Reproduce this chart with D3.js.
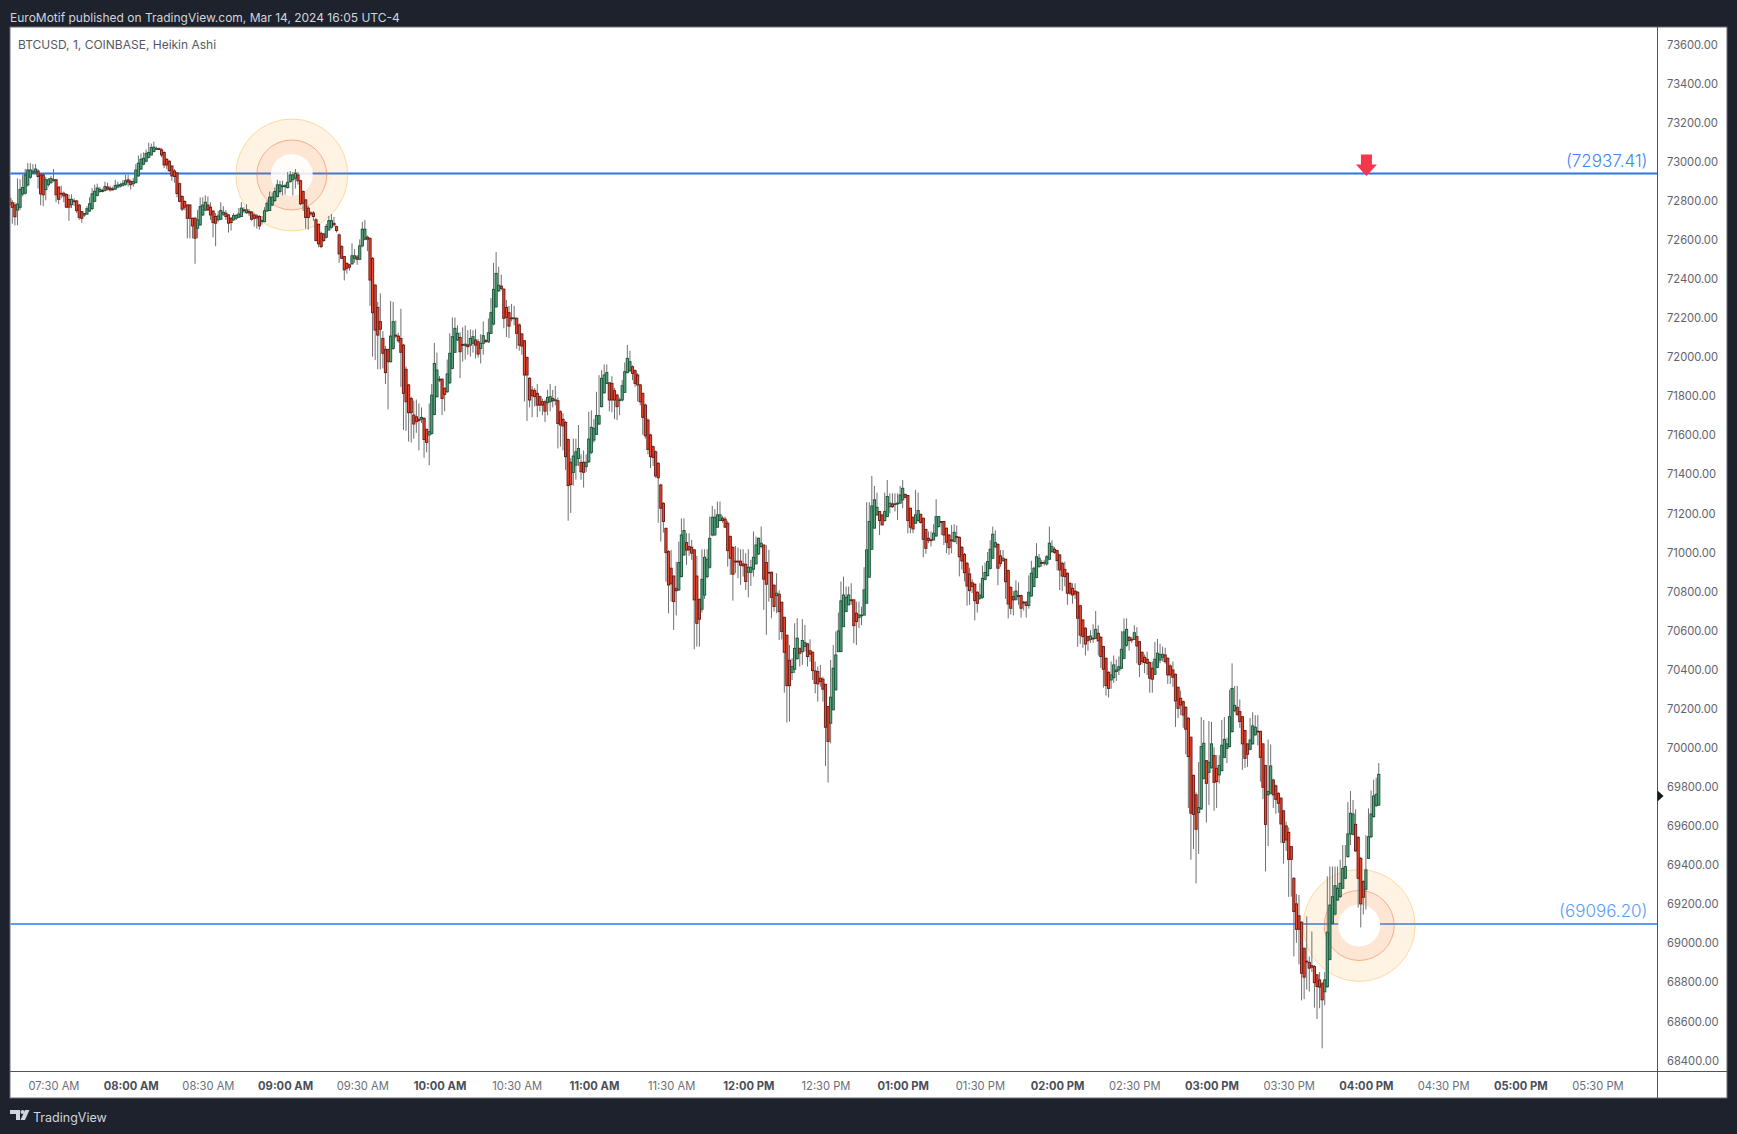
<!DOCTYPE html>
<html><head><meta charset="utf-8">
<style>html,body{margin:0;padding:0;background:#1e222d}svg{display:block}</style>
<script src="https://cdn.jsdelivr.net/npm/d3@7/dist/d3.min.js"></script>
</head><body><div id="c"></div>
<script>
const opens=[
72810,72788,72776,72750,72764,72832,72836,72879,72918,72940,
72945,72950,72930,72930,72855,72880,72890,72905,72905,72868,
72836,72836,72830,72805,72778,72797,72797,72776,72742,72725,
72730,72745,72758,72795,72825,72845,72850,72850,72868,72862,
72858,72857,72868,72873,72877,72882,72905,72897,72885,72890,
72925,72960,72985,73000,73020,73032,73050,73064,73064,73058,
73045,73010,73000,72975,72950,72940,72885,72820,72794,72776,
72776,72708,72708,72657,72674,72725,72750,72776,72765,72745,
72717,72700,72703,72729,72734,72725,72708,72700,72708,72713,
72717,72751,72737,72743,72740,72725,72720,72717,72691,72691,
72746,72748,72776,72799,72819,72845,72870,72870,72865,72896,
72905,72913,72930,72900,72845,72802,72760,72735,72735,72700,
72677,72631,72628,72611,72649,72662,72682,72665,72623,72563,
72512,72478,72470,72475,72503,72510,72498,72567,72601,72611,
72605,72503,72366,72252,72179,72093,72037,72037,71974,72042,
72110,72105,72093,72059,71935,71855,71786,71701,71692,71680,
71680,71684,71628,71599,71607,71704,71795,71884,71884,71838,
71820,71866,71940,72022,72085,72098,72062,72057,72060,72059,
72068,72085,72076,72042,72068,72082,72076,72119,72167,72255,
72337,72361,72345,72252,72225,72198,72197,72196,72162,72116,
72081,71996,71889,71829,71826,71812,71795,71769,71769,71764,
71769,71786,71778,71774,71718,71679,71663,71576,71459,71407,
71445,71479,71459,71459,71437,71462,71510,71573,71602,71655,
71744,71815,71863,71866,71863,71826,71803,71778,71778,71817,
71918,71928,71948,71928,71906,71855,71812,71752,71675,71599,
71539,71513,71454,71343,71249,71121,71002,70917,70877,70814,
70806,70874,70985,71048,71028,71024,71011,70877,70758,70707,
70780,70874,70922,71087,71087,71127,71161,71173,71168,71147,
71079,71023,70953,70953,70953,70939,70937,70896,70896,70912,
70939,70990,71028,71036,70946,70896,70896,70830,70777,70784,
70743,70666,70574,70446,70383,70400,70455,70507,70490,70516,
70530,70495,70487,70391,70388,70354,70349,70323,70209,70124,
70192,70294,70490,70490,70618,70695,70729,70755,70755,70687,
70664,70676,70677,70738,70871,71014,71122,71190,71207,71190,
71161,71181,71232,71246,71246,71249,71250,71267,71295,71289,
71224,71178,71147,71161,71193,71173,71116,71070,71062,71062,
71082,71130,71156,71156,71122,71087,71062,71053,71079,71075,
71024,70988,70942,70888,70843,70835,70794,70763,70768,70860,
70879,70916,70968,71027,71039,70980,70956,70963,70905,70819,
70772,70758,70777,70777,70743,70743,70726,70775,70823,70870,
70925,70946,70946,70939,70963,71002,71014,71007,70985,70942,
70911,70891,70840,70814,70800,70794,70725,70652,70610,70567,
70553,70559,70558,70584,70563,70516,70456,70384,70345,70357,
70388,70396,70405,70456,70523,70563,70553,70553,70567,70541,
70487,70461,70451,70434,70405,70374,70410,70447,70461,70473,
70456,70417,70396,70374,70308,70251,70234,70205,70149,70052,
69857,69757,69666,69685,69842,69932,69872,69898,69958,69893,
69859,69881,69949,69995,70004,70081,70188,70205,70183,70157,
70086,70018,69990,70018,70064,70083,70082,70018,69907,69757,
69765,69833,69803,69765,69740,69675,69598,69565,69492,69330,
69199,69138,69105,68972,68906,68899,68883,68878,68836,68810,
68790,68749,68775,68915,69100,69147,69219,69236,69279,69330,
69441,69557,69555,69606,69540,69432,69313,69274,69432,69543,
69646,69702,69705];
const closes=[
72776,72764,72716,72781,72856,72866,72930,72955,72955,72950,
72960,72922,72833,72828,72905,72905,72912,72905,72828,72805,
72832,72822,72765,72765,72805,72793,72747,72713,72708,72733,
72757,72782,72833,72846,72863,72856,72846,72870,72858,72853,
72856,72876,72878,72880,72887,72900,72893,72880,72896,72955,
72990,73010,73015,73040,73045,73070,73072,73065,73062,73032,
72981,72981,72952,72925,72922,72835,72795,72755,72765,72708,
72708,72669,72606,72700,72768,72776,72790,72751,72725,72686,
72683,72720,72748,72739,72717,72683,72686,72722,72722,72730,
72760,72746,72751,72735,72703,72708,72710,72669,72697,72746,
72785,72816,72816,72845,72879,72879,72874,72875,72892,72930,
72930,72939,72900,72782,72785,72712,72712,72733,72717,72594,
72577,72563,72594,72666,72696,72696,72674,72645,72526,72503,
72444,72452,72458,72516,72516,72498,72567,72652,72652,72601,
72392,72225,72136,72110,72140,72017,71918,71974,72105,72179,
72105,72081,72022,71812,71769,71713,71713,71655,71667,71672,
71689,71576,71561,71616,71803,71965,71931,71882,71786,71807,
71911,72017,72102,72145,72119,72025,72060,72064,72051,72093,
72102,72059,72013,72068,72107,72080,72122,72225,72344,72426,
72365,72349,72196,72201,72156,72197,72198,72119,72059,72054,
71906,71906,71778,71800,71795,71752,71752,71752,71721,71791,
71795,71774,71779,71658,71650,71645,71488,71340,71345,71491,
71513,71530,71411,71408,71459,71578,71638,71633,71698,71698,
71889,71906,71918,71778,71778,71778,71744,71779,71851,71923,
71991,71974,71914,71863,71855,71769,71689,71595,71525,71488,
71484,71389,71380,71224,71156,70997,70831,70837,70746,70802,
70946,71087,71110,71010,71011,70994,70755,70635,70656,70860,
70973,70963,71070,71178,71178,71190,71190,71161,71127,71007,
70968,70886,70952,70951,70932,70929,70849,70922,70922,70973,
71036,71070,71045,70861,70835,70895,70768,70721,70789,70695,
70593,70487,70316,70316,70414,70507,70559,70482,70547,70536,
70465,70477,70393,70328,70325,70337,70298,70103,70030,70257,
70405,70473,70596,70750,70780,70768,70780,70754,70623,70644,
70678,70677,70806,71011,71156,71236,71267,71229,71161,71139,
71207,71284,71250,71232,71247,71250,71292,71326,71280,71161,
71127,71118,71190,71212,71151,71065,71019,71059,71061,71096,
71181,71181,71155,71087,71050,71022,71061,71101,71078,70976,
70954,70894,70826,70802,70823,70751,70737,70780,70865,70895,
70951,71014,71091,71048,70917,70942,70968,70848,70734,70712,
70755,70800,70776,70712,70742,70726,70794,70891,70917,70976,
70968,70945,70947,70976,71045,71027,70998,70956,70908,70877,
70874,70789,70789,70780,70785,70661,70575,70567,70529,70546,
70570,70558,70604,70545,70465,70400,70316,70302,70371,70422,
70396,70413,70502,70591,70604,70546,70552,70587,70519,70425,
70439,70434,70430,70354,70349,70451,70482,70476,70476,70439,
70371,70371,70359,70238,70200,70217,70166,70093,69953,69663,
69657,69581,69692,70004,70021,69816,69924,70018,69821,69825,
69907,70011,70041,70018,70157,70302,70215,70169,70132,70018,
69944,69965,70038,70110,70103,70082,69949,69796,69606,69774,
69905,69757,69734,69714,69608,69514,69526,69427,69427,69160,
69069,69069,68844,68824,68905,68870,68875,68796,68776,68773,
68708,68810,69054,69193,69236,69292,69279,69304,69381,69390,
69557,69663,69659,69470,69330,69199,69233,69373,69543,69659,
69751,69760,69862];
const highs=[
72830,72800,72790,72912,72908,72930,72960,72990,72990,72985,
72985,72960,72935,72935,72920,72915,72925,72960,72910,72870,
72875,72845,72835,72830,72830,72810,72800,72780,72745,72735,
72770,72815,72862,72880,72885,72868,72860,72895,72890,72875,
72870,72905,72895,72890,72905,72930,72930,72905,72915,72985,
73030,73040,73045,73060,73095,73090,73100,73075,73070,73068,
73050,73015,73005,72980,72960,72945,72890,72825,72800,72780,
72780,72712,72715,72750,72815,72815,72825,72820,72790,72750,
72735,72745,72790,72770,72750,72730,72715,72735,72730,72760,
72790,72765,72780,72755,72745,72735,72730,72725,72720,72765,
72800,72845,72840,72865,72905,72900,72900,72885,72945,72950,
72945,72960,72945,72905,72850,72805,72770,72745,72745,72710,
72680,72640,72632,72680,72720,72730,72715,72670,72630,72570,
72515,72480,72475,72580,72550,72520,72600,72690,72700,72620,
72610,72510,72370,72280,72324,72130,72055,72040,72285,72280,
72185,72122,72245,72065,71950,71860,71795,71775,71780,71760,
71740,71690,71630,71760,71860,72070,72020,71900,71890,71842,
71985,72120,72200,72200,72160,72125,72150,72160,72135,72140,
72135,72140,72090,72115,72180,72090,72195,72300,72480,72535,
72460,72420,72350,72290,72260,72270,72260,72200,72170,72120,
72085,72000,71895,71850,71840,71860,71800,71785,71780,71830,
71860,71830,71850,71790,71725,71710,71670,71580,71480,71580,
71580,71650,71500,71520,71500,71718,71725,71680,71820,71905,
71931,71960,71960,71870,71900,71840,71810,71790,71880,71970,
72060,72030,71955,71935,71915,71860,71815,71760,71685,71605,
71545,71520,71460,71350,71255,71125,71010,71010,70880,70950,
71053,71172,71172,71096,71096,71062,71015,70980,70760,71014,
71014,71014,71181,71236,71219,71258,71258,71185,71181,71160,
71085,71030,71031,71023,71014,71014,70994,71014,70960,71105,
71079,71075,71130,71036,71036,71011,70900,70835,70891,70803,
70745,70668,70576,70524,70456,70635,70661,70510,70656,70627,
70533,70553,70490,70439,70414,70422,70362,70325,70212,70448,
70524,70593,70690,70849,70874,70823,70823,70840,70757,70746,
70746,70720,70922,71255,71255,71390,71338,71304,71210,71192,
71304,71369,71300,71300,71300,71300,71338,71369,71298,71292,
71226,71180,71318,71304,71195,71175,71118,71105,71105,71142,
71270,71183,71158,71158,71124,71090,71138,71142,71136,71080,
71030,70995,70950,70920,70860,70840,70800,70840,70930,70945,
71000,71060,71130,71110,71045,71010,71010,70965,70910,70825,
70800,70855,70845,70782,70750,70750,70880,70955,70925,71045,
70990,70960,70960,70985,71130,71060,71025,71012,70990,70950,
70950,70895,70845,70840,70840,70800,70730,70655,70615,70570,
70600,70630,70698,70625,70570,70520,70460,70390,70440,70470,
70450,70465,70595,70660,70660,70570,70565,70625,70615,70545,
70490,70475,70490,70440,70440,70540,70555,70530,70516,70510,
70460,70425,70440,70378,70310,70290,70240,70210,70155,70055,
69860,69770,69925,70155,70140,69935,70135,70130,70000,69960,
69960,70140,70155,70050,70295,70430,70315,70315,70245,70160,
70090,70020,70150,70180,70165,70165,70085,70020,69910,70040,
70015,69840,69810,69770,69745,69680,69620,69590,69495,69335,
69250,69245,69110,68975,69135,68930,69058,68885,68840,68850,
68800,68850,69340,69390,69390,69390,69390,69425,69500,69500,
69720,69777,69731,69683,69545,69440,69320,69550,69688,69779,
69835,69845,69920];
const lows=[
72770,72680,72672,72672,72750,72820,72830,72870,72910,72935,
72935,72860,72775,72770,72800,72870,72885,72895,72790,72780,
72810,72790,72760,72695,72760,72770,72735,72700,72685,72715,
72725,72740,72750,72790,72820,72838,72840,72845,72850,72845,
72850,72855,72862,72865,72870,72875,72870,72855,72870,72888,
72920,72955,72980,72995,73015,73030,73045,73060,73058,73020,
72965,72960,72945,72900,72890,72815,72790,72745,72750,72605,
72605,72605,72475,72606,72670,72720,72745,72745,72700,72610,
72565,72690,72700,72720,72700,72635,72645,72695,72700,72710,
72715,72735,72730,72720,72695,72665,72655,72650,72675,72688,
72740,72745,72770,72790,72815,72835,72825,72830,72860,72890,
72825,72860,72880,72775,72745,72655,72650,72720,72695,72590,
72560,72555,72588,72605,72645,72655,72665,72635,72480,72500,
72390,72425,72440,72470,72480,72470,72495,72560,72595,72540,
72260,72000,71982,71935,71935,71940,71860,71730,71970,72035,
72095,72070,71845,71625,71620,71565,71560,71580,71610,71520,
71660,71482,71510,71444,71600,71700,71790,71870,71700,71720,
71815,71860,71935,72020,72080,71890,71975,71985,72010,72000,
72020,71990,71995,71965,72010,72070,72070,72115,72160,72250,
72330,72340,72145,72100,72095,72180,72160,72040,72030,72010,
71770,71670,71740,71690,71745,71690,71720,71700,71665,71700,
71720,71740,71750,71530,71540,71520,71420,71160,71200,71340,
71370,71440,71370,71330,71410,71455,71500,71560,71600,71650,
71740,71810,71860,71720,71715,71680,71675,71700,71770,71815,
71915,71920,71880,71845,71770,71750,71600,71580,71500,71430,
71440,71380,71150,71053,71100,70848,70686,70746,70601,70675,
70800,70870,70980,70934,70980,70960,70502,70516,70516,70690,
70760,70865,70915,71080,71085,71125,71158,71150,71125,70925,
70883,70751,70891,70866,70832,70874,70806,70768,70826,70874,
70942,70985,71019,70704,70576,70746,70661,70695,70687,70550,
70553,70280,70127,70132,70345,70380,70448,70414,70422,70490,
70414,70439,70345,70277,70234,70311,70234,69905,69820,70021,
70192,70294,70490,70490,70618,70695,70729,70730,70533,70524,
70610,70625,70677,70738,70871,71014,71122,71185,71087,71135,
71155,71180,71198,71225,71207,71164,71250,71224,71275,71096,
71096,71096,71145,71155,71145,70973,70990,71045,71028,71060,
71078,71125,71087,71036,70994,70985,70993,71050,71040,70875,
70910,70850,70725,70730,70790,70650,70690,70755,70760,70855,
70875,70910,70965,71020,70830,70925,70950,70760,70660,70680,
70675,70750,70730,70665,70700,70665,70710,70770,70820,70865,
70920,70925,70930,70930,70960,70995,70990,70905,70805,70800,
70825,70730,70780,70735,70760,70515,70530,70510,70470,70495,
70535,70535,70555,70470,70407,70306,70265,70255,70300,70330,
70340,70370,70400,70450,70515,70495,70535,70550,70430,70360,
70425,70380,70370,70280,70280,70370,70405,70430,70440,70428,
70325,70325,70310,70105,70150,70165,70100,69965,69690,69425,
69480,69304,69455,69680,69835,69615,69705,69890,69675,69690,
69815,69878,69945,69920,70000,70075,70180,70160,70100,69885,
69895,69900,69985,70015,70060,70010,69825,69735,69365,69495,
69760,69690,69660,69665,69510,69405,69470,69235,69236,68930,
69000,68890,68705,68712,68760,68750,68850,68668,68610,68665,
68460,68680,68770,68910,69095,69140,69215,69230,69275,69325,
69435,69500,69550,69465,69180,69078,69145,69170,69428,69535,
69640,69695,69700];

const priceTicks=[73600,73400,73200,73000,72800,72600,72400,72200,72000,71800,71600,71400,71200,71000,70800,70600,70400,70200,70000,69800,69600,69400,69200,69000,68800,68600,68400];
const timeTickLabels=["07:30 AM","08:00 AM","08:30 AM","09:00 AM","09:30 AM","10:00 AM","10:30 AM","11:00 AM","11:30 AM","12:00 PM","12:30 PM","01:00 PM","01:30 PM","02:00 PM","02:30 PM","03:00 PM","03:30 PM","04:00 PM","04:30 PM","05:00 PM","05:30 PM"];
const levelPrices=[72937.41,69096.20];
const levelLabels=["(72937.41)","(69096.20)"];
const ringMinutes=[92.6,507.4];   // minutes after 07:30 of the two ring centres
const ringPrices=[72937.41,69096.2];
const firstCandleOffset=-17;  // first bar is 07:13
const arrowMinute=510.2, arrowPrice=72925;

const W=1737,H=1134,paneL=10,paneT=27,paneR=1727,paneB=1098,axisX=1657.5,axisY=1071.5;
const uiFont="Inter, Roboto, sans-serif";
const svg=d3.select("#c").append("svg").attr("width",W).attr("height",H).style("font-family",uiFont);
svg.append("rect").attr("width",W).attr("height",H).attr("fill","#1e222d");
svg.append("rect").attr("x",paneL).attr("y",paneT).attr("width",paneR-paneL).attr("height",paneB-paneT).attr("fill","#fff").attr("stroke","#6b6e79").attr("stroke-width",1);

const t0=new Date(2024,2,14,7,30);
const minuteTime=m=>new Date(t0.getTime()+m*60000);
const x=d3.scaleTime().domain([t0,minuteTime(600)]).range([53.5,1597.5]);
const y=d3.scaleLinear().domain([68400,73600]).range([1060,44]);
svg.append("clipPath").attr("id","pane").append("rect").attr("x",paneL+.5).attr("y",paneT).attr("width",axisX-paneL-.5).attr("height",axisY-paneT);
const chart=svg.append("g").attr("clip-path","url(#pane)");

// horizontal levels
const levelColors=["#2e74e8","#5a9cf8"];
chart.selectAll("line.level").data(levelPrices).join("line").attr("class","level")
 .attr("x1",paneL).attr("x2",axisX).attr("y1",d=>y(d)).attr("y2",d=>y(d))
 .attr("stroke",(d,i)=>levelColors[i]).attr("stroke-width",2);

// rings
const ringG=chart.selectAll("g.ring").data(ringMinutes).join("g").attr("class","ring")
 .attr("transform",(d,i)=>`translate(${x(minuteTime(d))},${y(ringPrices[i])+1.5})`);
ringG.append("circle").attr("r",56).attr("fill","rgba(255,152,0,.105)").attr("stroke","rgba(255,152,0,.33)").attr("stroke-width",1);
ringG.append("circle").attr("r",35).attr("fill","rgba(240,90,60,.09)").attr("stroke","rgba(240,110,50,.5)").attr("stroke-width",1);
ringG.append("circle").attr("r",21).attr("fill","#fff").attr("fill-opacity",(d,i)=>i==0?.85:1);

// candles
const times=opens.map((_,i)=>minuteTime(firstCandleOffset+i));
const idx=d3.range(opens.length);
const cx=i=>x(times[i]);
chart.append("g").selectAll("line").data(idx).join("line")
 .attr("x1",cx).attr("x2",cx).attr("y1",i=>y(highs[i])).attr("y2",i=>y(lows[i]))
 .attr("stroke","#6f6f6f").attr("stroke-width",1);
chart.append("g").selectAll("rect").data(idx).join("rect")
 .attr("x",i=>cx(i)-1.1).attr("width",2.2)
 .attr("y",i=>y(Math.max(opens[i],closes[i])))
 .attr("height",i=>Math.max(.8,Math.abs(y(opens[i])-y(closes[i]))))
 .attr("fill",i=>closes[i]>=opens[i]?"#5aa67f":"#ec4a30")
 .attr("stroke",i=>closes[i]>=opens[i]?"#1c553b":"#6e1a15").attr("stroke-width",.95);

// arrow
const ax=x(minuteTime(arrowMinute)), ay=y(arrowPrice);
const ap=d3.path();
ap.moveTo(ax-5.5,ay-21.5);ap.lineTo(ax+5.5,ay-21.5);ap.lineTo(ax+5.5,ay-11.5);ap.lineTo(ax+10.5,ay-11.5);ap.lineTo(ax,ay);ap.lineTo(ax-10.5,ay-11.5);ap.lineTo(ax-5.5,ay-11.5);ap.closePath();
chart.append("path").attr("d",ap.toString()).attr("fill","#f5364c");

// level labels
const labelColors=["#3f85f2","#5a9cf8"];
svg.selectAll("text.lv").data(levelLabels).join("text").attr("class","lv")
 .attr("x",1647.5).attr("y",(d,i)=>y(levelPrices[i])-6.5).attr("text-anchor","end")
 .attr("font-size",17).attr("font-weight",300).attr("fill",(d,i)=>labelColors[i]).text(d=>d);

// axes
const yAxis=d3.axisRight(y).tickValues(priceTicks).tickSize(0).tickPadding(0).tickFormat(d3.format(".2f"));
const gy=svg.append("g").attr("transform",`translate(1667,0.5)`).call(yAxis);
gy.select(".domain").remove();
gy.selectAll("text").attr("fill","#5f626c").attr("font-size",11.2).attr("font-family",uiFont);
const timeTicks=timeTickLabels.map((_,i)=>minuteTime(30*i));
const xAxis=d3.axisBottom(x).tickValues(timeTicks).tickSize(0).tickPadding(0).tickFormat((d,i)=>timeTickLabels[i]);
const gx=svg.append("g").attr("transform",`translate(0,1082)`).call(xAxis);
gx.select(".domain").remove();
gx.selectAll("text").attr("fill",(d,i)=>i%2?"#4b4e58":"#6a6d78").attr("font-size",11.2).attr("font-family",uiFont)
 .attr("font-weight",(d,i)=>i%2?700:400);

// dividers
svg.append("line").attr("x1",axisX).attr("x2",axisX).attr("y1",paneT).attr("y2",paneB).attr("stroke","#50535e");
svg.append("line").attr("x1",paneL).attr("x2",paneR).attr("y1",axisY).attr("y2",axisY).attr("stroke","#50535e");
// last-price marker
const m=d3.path();m.moveTo(axisX,790.5);m.lineTo(axisX+6,796);m.lineTo(axisX,801.5);m.closePath();
svg.append("path").attr("d",m.toString()).attr("fill","#131722");

// texts
svg.append("text").attr("x",10).attr("y",21.5).attr("font-size",12).attr("fill","#d1d4dc").text("EuroMotif published on TradingView.com, Mar 14, 2024 16:05 UTC-4");
svg.append("text").attr("x",18).attr("y",49).attr("font-size",12).attr("fill","#555862").text("BTCUSD, 1, COINBASE, Heikin Ashi");
// logo
svg.append("path").attr("fill","#d1d4dc").attr("d","M10 1110h10v10h-4v-6h-6z");
svg.append("circle").attr("cx",22.5).attr("cy",1112).attr("r",2).attr("fill","#d1d4dc");
svg.append("path").attr("fill","#d1d4dc").attr("d","M25 1110h4.5l-4.5 10h-4.5z");
svg.append("text").attr("x",33).attr("y",1121.5).attr("font-size",12.5).attr("fill","#d1d4dc").text("TradingView");
</script></body></html>
